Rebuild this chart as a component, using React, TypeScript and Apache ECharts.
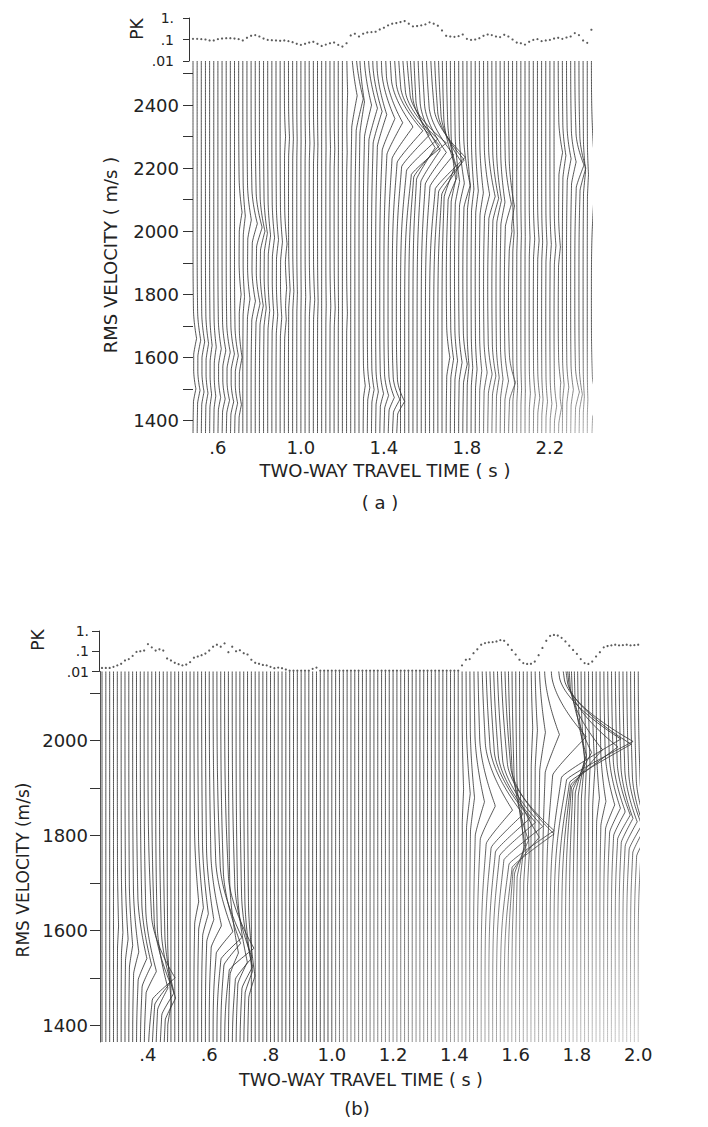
import React, { useEffect, useRef } from "react";
import * as echarts from "echarts";

// ---------- axis ticks / labels ----------
const A_TIME_LABELS = [0.6, 1.0, 1.4, 1.8, 2.2];
const A_VEL_LABELS = [1400, 1600, 1800, 2000, 2200, 2400];
const A_VEL_TICKS = [1400, 1500, 1600, 1700, 1800, 1900, 2000, 2100, 2200, 2300, 2400, 2500];
const B_TIME_LABELS = [0.4, 0.6, 0.8, 1.0, 1.2, 1.4, 1.6, 1.8, 2.0];
const B_VEL_LABELS = [1400, 1600, 1800, 2000];
const B_VEL_TICKS = [1400, 1500, 1600, 1700, 1800, 1900, 2000, 2100];

// ---------- ranges / trace sampling ----------
const A_TIME_RANGE = [0.48, 2.4];
const A_VEL_RANGE = [1360, 2540];
const B_TIME_RANGE = [0.25, 2.0];
const B_VEL_RANGE = [1365, 2145];
const A_TRACE_STEP = 0.02;
const B_TRACE_STEP = 0.0125;
const A_TIMES = Array.from({ length: 97 }, (_, i) => +(A_TIME_RANGE[0] + A_TRACE_STEP * i).toFixed(4));
const B_TIMES = Array.from({ length: 141 }, (_, i) => +(B_TIME_RANGE[0] + B_TRACE_STEP * i).toFixed(4));

// ---------- peak coherence (PK) per trace, read from the dotted strips ----------
const PK_A = [
  0.107, 0.107, 0.104, 0.1, 0.09, 0.09, 0.104, 0.111, 0.115, 0.115,
  0.111, 0.104, 0.09, 0.12, 0.149, 0.16, 0.138, 0.111, 0.096, 0.093,
  0.09, 0.087, 0.09, 0.084, 0.075, 0.063, 0.056, 0.063, 0.072, 0.078,
  0.063, 0.05, 0.058, 0.067, 0.072, 0.056, 0.047, 0.067, 0.154, 0.185,
  0.138, 0.185, 0.213, 0.221, 0.229, 0.294, 0.352, 0.453, 0.542, 0.583,
  0.649, 0.721, 0.542, 0.407, 0.422, 0.453, 0.505, 0.626, 0.542, 0.437,
  0.264, 0.149, 0.138, 0.133, 0.143, 0.171, 0.107, 0.096, 0.1, 0.115,
  0.149, 0.171, 0.16, 0.138, 0.129, 0.165, 0.138, 0.1, 0.072, 0.067,
  0.058, 0.078, 0.096, 0.104, 0.084, 0.09, 0.096, 0.111, 0.12, 0.107,
  0.124, 0.138, 0.198, 0.16, 0.09, 0.07, 0.284,
];
const PK_B = [
  0.015, 0.015, 0.015, 0.017, 0.02, 0.024, 0.035, 0.041, 0.059, 0.093,
  0.1, 0.108, 0.226, 0.156, 0.108, 0.125, 0.108, 0.044, 0.035, 0.027,
  0.023, 0.02, 0.022, 0.029, 0.048, 0.055, 0.064, 0.077, 0.108, 0.168,
  0.21, 0.168, 0.244, 0.09, 0.168, 0.1, 0.112, 0.08, 0.069, 0.038,
  0.027, 0.024, 0.021, 0.02, 0.017, 0.0145, 0.0156, 0.0145, 0.0125, 0.011,
  0.011, 0.011, 0.011, 0.011, 0.011, 0.0135, 0.0156, 0.011, 0.011, 0.011,
  0.011, 0.011, 0.011, 0.011, 0.011, 0.011, 0.011, 0.011, 0.011, 0.011,
  0.011, 0.011, 0.011, 0.011, 0.011, 0.011, 0.011, 0.011, 0.011, 0.011,
  0.011, 0.011, 0.011, 0.011, 0.011, 0.011, 0.011, 0.011, 0.011, 0.011,
  0.011, 0.011, 0.011, 0.011, 0.02, 0.038, 0.041, 0.08, 0.125, 0.21,
  0.253, 0.273, 0.283, 0.305, 0.353, 0.328, 0.21, 0.116, 0.069, 0.038,
  0.026, 0.0235, 0.024, 0.031, 0.064, 0.145, 0.328, 0.573, 0.64, 0.595,
  0.458, 0.305, 0.188, 0.116, 0.074, 0.041, 0.026, 0.0235, 0.031, 0.055,
  0.09, 0.156, 0.181, 0.195, 0.21, 0.195, 0.2, 0.21, 0.195, 0.2, 0.21,
];

// ---------- coherence ridges: knots [time s, velocity m/s] ----------
const A_RIDGES = [
  [[0.48, 1660], [0.7, 1600]],
  [[0.48, 1500], [0.7, 1450]],
  [[0.7, 2060], [0.8, 2000], [0.92, 1960]],
  [[0.7, 1800], [0.92, 1720]],
  [[0.92, 1820], [1.22, 1740]],
  [[0.92, 2300], [1.22, 2250]],
  [[1.22, 2440], [1.36, 2370], [1.5, 2280], [1.62, 2235], [1.7, 2200]],
  [[1.3, 1510], [1.46, 1460]],
  [[1.7, 2170], [2.0, 2080]],
  [[1.7, 1600], [2.0, 1520]],
  [[2.0, 1520], [2.24, 1440]],
  [[2.0, 2000], [2.24, 1950]],
  [[2.24, 2250], [2.4, 2170]],
  [[2.24, 1520], [2.4, 1460]],
];
// [upper arm m/s, lower arm m/s, relative weight]
const A_RIDGE_ARMS = [
  [90, 50, 1], [60, 40, 0.8], [110, 60, 1], [100, 60, 0.7], [120, 60, 0.8], [100, 60, 0.5],
  [150, 100, 1], [70, 40, 0.25], [150, 70, 1], [100, 60, 0.6], [80, 50, 0.7], [100, 60, 0.5],
  [100, 70, 1], [80, 50, 0.5],
];
const B_RIDGES = [
  [[0.29, 1620], [0.4, 1500], [0.47, 1440]],
  [[0.55, 1660], [0.64, 1570], [0.73, 1500]],
  [[1.42, 1900], [1.55, 1810], [1.64, 1760]],
  [[1.64, 2030], [1.72, 2000], [1.85, 1940]],
  [[1.86, 1880], [2.0, 1800]],
];
const B_RIDGE_ARMS = [
  [130, 45, 1], [150, 45, 1], [140, 70, 1.25], [130, 80, 1], [110, 50, 0.6],
];

// ---------- drawing helpers ----------
function ridgeV(knots: number[][], t: number): number | null {
  if (t < knots[0][0] - 1e-9 || t > knots[knots.length - 1][0] + 1e-9) return null;
  for (let j = 0; j < knots.length - 1; j++) {
    const [t0, v0] = knots[j];
    const [t1, v1] = knots[j + 1];
    if (t >= t0 - 1e-9 && t <= t1 + 1e-9) return v0 + ((v1 - v0) * (t - t0)) / (t1 - t0);
  }
  return null;
}
function armShape(u: number, up: number, down: number): number {
  let core = 0;
  if (u >= 0) {
    if (u < up) core = Math.pow(1 - u / up, 1.7);
  } else if (-u < down) core = Math.pow(1 + u / down, 1.15);
  const s = u >= 0 ? up * 1.1 : down * 1.5;
  const base = Math.exp(-0.5 * (u / s) * (u / s));
  return 0.8 * core + 0.2 * base;
}
function buildTraces(
  times: number[], pk: number[], ridges: number[][][], arms: number[][],
  gain: number, floor: number, vr: number[], vStep: number
): number[][][] {
  return times.map((t, i) => {
    const amp = Math.max(0, pk[i] - floor) * gain;
    const act: { vp: number; up: number; down: number; w: number }[] = [];
    ridges.forEach((k, r) => {
      const vp = ridgeV(k, t);
      if (vp != null) act.push({ vp, up: arms[r][0], down: arms[r][1], w: arms[r][2] });
    });
    const vs: number[] = [];
    for (let v = vr[0]; v <= vr[1] + 1e-6; v += vStep) vs.push(v);
    act.forEach((a) => { if (a.vp > vr[0] && a.vp < vr[1]) vs.push(a.vp); });
    vs.sort((a, b) => a - b);
    return vs.map((v) => {
      let d = 0;
      act.forEach((a) => { d += amp * a.w * armShape(v - a.vp, a.up, a.down); });
      return [t + d, v];
    });
  });
}

const FONT = "DejaVu Sans";
const INK = "#222";
const fmtTime = (v: number) => {
  const s = (+v).toFixed(1);
  return s.startsWith("0") ? s.slice(1) : s;
};
const fmtPk = (v: number) => {
  const e = Math.round(Math.log10(v));
  return e === 0 ? "1." : e === -1 ? ".1" : e === -2 ? ".01" : "";
};
const fmtVel = (v: number) => String(Math.round(v));

export default function App() {
  const ref = useRef<HTMLDivElement>(null);
  useEffect(() => {
    document.body.style.margin = "0";
    if (!ref.current) return;
    const chart = echarts.init(ref.current, null, { renderer: "svg" });

    const aTraces = buildTraces(A_TIMES, PK_A, A_RIDGES, A_RIDGE_ARMS, 0.3, 0.05, A_VEL_RANGE, 5);
    const bTraces = buildTraces(B_TIMES, PK_B, B_RIDGES, B_RIDGE_ARMS, 0.41, 0.01, B_VEL_RANGE, 4);

    const series: any[] = [];
    aTraces.forEach((pts, i) => {
      const t = A_TIMES[i];
      let color: any = "#333";
      if (t > 1.85) {
        const c = Math.round(0x50 + (t - 1.85) * 0x90);
        color = new echarts.graphic.LinearGradient(0, 61, 0, 433, [
          { offset: 0, color: "#333" },
          { offset: 0.72, color: "#383838" },
          { offset: 1, color: `rgb(${c},${c},${c})` },
        ], true);
      }
      series.push({
        type: "line", xAxisIndex: 1, yAxisIndex: 1, data: pts, symbol: "none", showSymbol: false,
        silent: true, clip: false, animation: false, lineStyle: { width: 0.85, color },
      });
    });
    bTraces.forEach((pts, i) => {
      const t = B_TIMES[i];
      let color: any = "#333";
      if (t > 1.0) {
        const c = Math.round(0x60 + (t - 1.0) * 0x60);
        color = new echarts.graphic.LinearGradient(0, 671, 0, 1042, [
          { offset: 0, color: "#333" },
          { offset: 0.4, color: "#3a3a3a" },
          { offset: 1, color: `rgb(${c},${c},${c})` },
        ], true);
      }
      series.push({
        type: "line", xAxisIndex: 3, yAxisIndex: 3, data: pts, symbol: "none", showSymbol: false,
        silent: true, clip: false, animation: false, lineStyle: { width: 0.85, color },
      });
    });
    series.push({
      type: "scatter", xAxisIndex: 0, yAxisIndex: 0, symbol: "circle", symbolSize: 2.2, clip: false,
      silent: true, itemStyle: { color: "#333" }, data: PK_A.map((p, i) => [A_TIMES[i], p]),
    });
    series.push({
      type: "scatter", xAxisIndex: 2, yAxisIndex: 2, symbol: "circle", symbolSize: 2.2, clip: false,
      silent: true, itemStyle: { color: "#333" }, data: PK_B.map((p, i) => [B_TIMES[i], p]),
    });

    const lbl = { fontFamily: FONT, fontSize: 18, color: INK };
    const pkLbl = { fontFamily: FONT, fontSize: 14, color: INK };
    const tickStyle = { color: "#333", width: 1 };

    const text = (txt: string, x: number, y: number, size: number, rot = 0) => ({
      type: "text", x, y, rotation: rot, silent: true,
      style: {
        text: txt, font: `${size}px "${FONT}"`, fill: INK,
        align: "center", verticalAlign: "middle", textAlign: "center", textVerticalAlign: "middle",
      },
    });

    chart.setOption({
      animation: false,
      backgroundColor: "#fff",
      grid: [
        { left: 193, top: 18, width: 398.4, height: 43 },
        { left: 193, top: 61, width: 398.4, height: 372 },
        { left: 102, top: 631, width: 536.2, height: 40.5 },
        { left: 102, top: 671.5, width: 536.2, height: 370.5 },
      ],
      xAxis: [
        { gridIndex: 0, type: "value", min: A_TIME_RANGE[0], max: A_TIME_RANGE[1], show: false },
        {
          gridIndex: 1, type: "value", min: A_TIME_RANGE[0], max: A_TIME_RANGE[1],
          axisLine: { show: false }, axisTick: { show: false }, splitLine: { show: false },
          axisLabel: { ...lbl, customValues: A_TIME_LABELS, formatter: fmtTime, margin: 5 },
        },
        { gridIndex: 2, type: "value", min: B_TIME_RANGE[0], max: B_TIME_RANGE[1], show: false },
        {
          gridIndex: 3, type: "value", min: B_TIME_RANGE[0], max: B_TIME_RANGE[1],
          axisLine: { show: false }, axisTick: { show: false }, splitLine: { show: false },
          axisLabel: { ...lbl, customValues: B_TIME_LABELS, formatter: fmtTime, margin: 3 },
        },
      ],
      yAxis: [
        {
          gridIndex: 0, type: "log", logBase: 10, min: 0.01, max: 1, splitNumber: 2, offset: 4,
          axisLine: { show: true, lineStyle: tickStyle }, axisTick: { length: 6, lineStyle: tickStyle },
          splitLine: { show: false }, minorTick: { show: false },
          axisLabel: { ...pkLbl, formatter: fmtPk, margin: 15 },
        },
        {
          gridIndex: 1, type: "value", min: A_VEL_RANGE[0], max: A_VEL_RANGE[1],
          axisLine: { show: false }, splitLine: { show: false },
          axisTick: { show: true, customValues: A_VEL_TICKS, length: 10, lineStyle: tickStyle },
          axisLabel: { ...lbl, customValues: A_VEL_LABELS, formatter: fmtVel, margin: 14 },
        },
        {
          gridIndex: 2, type: "log", logBase: 10, min: 0.01, max: 1, splitNumber: 2, offset: 3,
          axisLine: { show: true, lineStyle: tickStyle }, axisTick: { length: 7, lineStyle: tickStyle },
          splitLine: { show: false }, minorTick: { show: false },
          axisLabel: { ...pkLbl, formatter: fmtPk, margin: 10 },
        },
        {
          gridIndex: 3, type: "value", min: B_VEL_RANGE[0], max: B_VEL_RANGE[1], offset: 2,
          axisLine: { show: true, lineStyle: { color: "#555", width: 1 } }, splitLine: { show: false },
          axisTick: { show: true, customValues: B_VEL_TICKS, length: 10, lineStyle: tickStyle },
          axisLabel: { ...lbl, customValues: B_VEL_LABELS, formatter: fmtVel, margin: 12 },
        },
      ],
      graphic: [
        text("PK", 137, 29, 17, Math.PI / 2),
        text("RMS VELOCITY ( m/s )", 110, 255, 18, Math.PI / 2),
        text("TWO-WAY TRAVEL TIME ( s )", 385, 470, 18),
        text("( a )", 380, 502, 18),
        text("PK", 38, 640, 17, Math.PI / 2),
        text("RMS VELOCITY (m/s)", 23, 870, 17, Math.PI / 2),
        text("TWO-WAY TRAVEL TIME ( s )", 361, 1080, 17.5),
        text("(b)", 357, 1108, 18),
      ],
      series,
    });
    return () => chart.dispose();
  }, []);
  return <div ref={ref} style={{ width: 708, height: 1127 }} />;
}
